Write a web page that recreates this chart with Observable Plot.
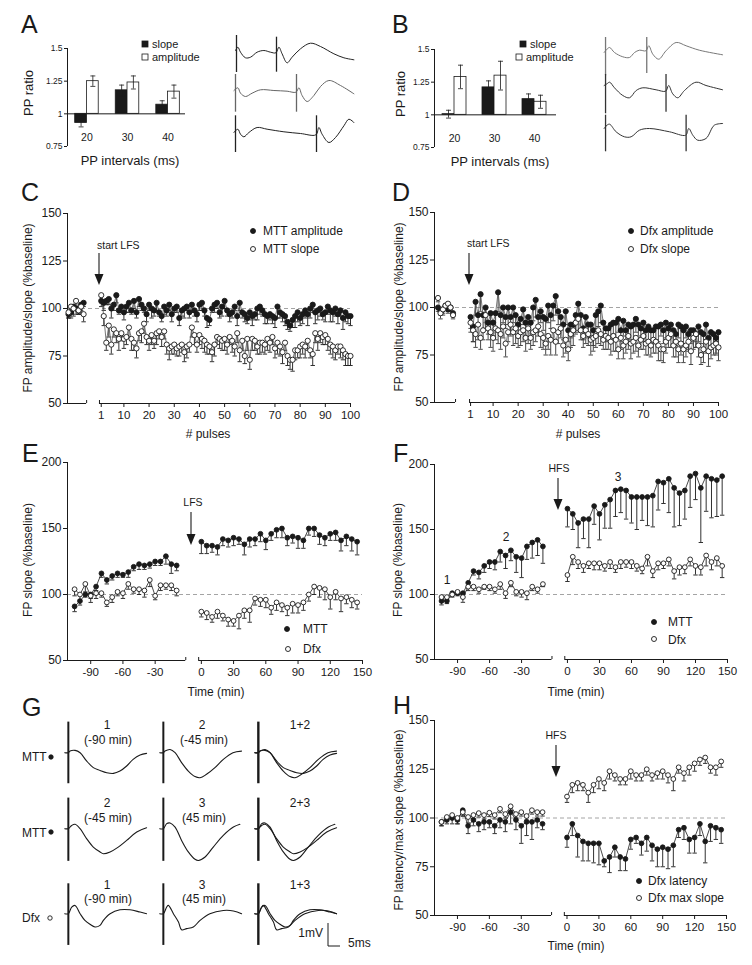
<!DOCTYPE html>
<html><head><meta charset="utf-8">
<script src="https://cdn.jsdelivr.net/npm/d3@7"></script>
<script src="https://cdn.jsdelivr.net/npm/@observablehq/plot@0.6"></script>
<style>
html,body{margin:0;padding:0;background:#fff;}
#fig{position:relative;width:752px;height:965px;overflow:hidden;font-family:"Liberation Sans",Arial,Helvetica,sans-serif;color:#1a1a1a;background:#fff;}
.t{position:absolute;white-space:nowrap;line-height:1;}
</style></head><body><div id="fig"></div>
<script>
// ---------------- DATA ----------------
const intervals = [20, 30, 40];
const aSlope = [0.93, 1.18, 1.07], aSlopeE = [0.03, 0.04, 0.03];
const aAmp = [1.25, 1.24, 1.17], aAmpE = [0.04, 0.05, 0.05];
const bSlope = [1.005, 1.21, 1.12], bSlopeE = [0.03, 0.05, 0.04];
const bAmp = [1.29, 1.30, 1.10], bAmpE = [0.09, 0.11, 0.05];
const ratioTicks = [0.75, 1, 1.25, 1.5];

// paired-pulse example traces [ms, a.u.]
const ppA20 = [[-0.5,0],[0.7,0.33],[2,-0.17],[4.5,-0.73],[7,-0.67],[10.3,-0.17],[13.7,0],[17,-0.17],[19.7,-0.23],[21.2,0.33],[22.8,-0.33],[25.3,-1.23],[27.8,-0.67],[32,0.17],[37,0.73],[42,0.4],[48.7,-0.33],[53.7,-0.73],[58.7,-0.93]];
const ppA20art = [{t:0,hi:1.5,lo:-2.2},{t:20,hi:1.33,lo:-2.17}];
const ppA30 = [[-0.8,0],[1.2,0.27],[2.5,-0.27],[5,-0.6],[8.3,-0.27],[12.5,0.07],[19.2,0],[25.8,-0.07],[30.2,-0.17],[31.7,0.27],[33.3,-0.5],[35.8,-1.1],[39.2,-0.5],[42.5,0.4],[46.7,1],[52.5,0.5],[59.2,-0.33]];
const ppA30art = [{t:0,hi:1.6,lo:-2.17},{t:30.5,hi:1.6,lo:-2.17}];
const ppA40 = [[-0.8,0],[1.2,0.33],[2.5,-0.17],[4.2,-0.43],[6.7,0],[10.8,0.5],[15.8,0.33],[24.2,0.07],[32.5,-0.1],[40.2,-0.23],[41.7,0.5],[43.3,-0.17],[46.7,-1],[50,-0.5],[54.2,0.67],[56.7,1.33],[59.2,1]];
const ppA40art = [{t:0,hi:1.67,lo:-2},{t:40.5,hi:1.67,lo:-2}];
const ppB20 = [[-0.7,0],[0.7,0.33],[2,0.5],[4.4,0],[8.5,-0.43],[11.8,-0.5],[14.3,0],[16.7,0.23],[19.9,0.17],[21.3,0.67],[23.3,-0.17],[26.2,-0.67],[29.8,0.17],[34.8,1],[39.7,0.67],[46.2,0.23],[57.7,-0.23]];
const ppB20art = [{t:0,hi:1.5,lo:-2.33},{t:20.3,hi:1.5,lo:-2.1}];
const ppB30 = [[-0.7,0],[0.7,0.17],[2,0.33],[4.4,-0.23],[8.5,-1],[11.8,-1.23],[15.1,-0.5],[18.4,-0.23],[24.9,-0.43],[29.6,-0.57],[31.1,0],[33.1,-0.83],[35.6,-1.23],[38.9,-0.5],[44.6,0.33],[49.5,0],[57.7,-0.43]];
const ppB30art = [{t:0,hi:1.1,lo:-2.83},{t:29.8,hi:1.1,lo:-2.67}];
const ppB40 = [[-0.7,0],[0.7,0.33],[2,0.43],[5.2,-0.33],[9.3,-0.83],[12.6,-0.83],[16.7,-0.17],[21.6,0],[31.5,-0.33],[39.5,-0.67],[41,0],[43,-0.67],[45.4,-1.17],[49.5,-1],[53.6,0.33],[57.7,0.5]];
const ppB40art = [{t:0,hi:1.33,lo:-2.33},{t:39.7,hi:1.33,lo:-2.33}];

// C: MTT, 1 Hz LFS
const pulses = d3.range(1, 101);
const baseX = [-12, -11, -10, -9, -8, -7, -6];
const cBaseAmp = [97, 98, 101, 100, 99, 102, 103], cBaseAmpE = [2, 3, 2, 3, 2, 3, 2];
const cBaseSlope = [98, 101, 100, 104, 99, 101, 97], cBaseSlopeE = [3, 2, 4, 3, 2, 4, 4];
const cAmp = [104,103,104,105,100,102,107,99,101,98, 101,103,99,104,98,105,102,100,97,102, 100,99,103,98,96,101,99,102,97,100, 101,95,99,100,101,98,102,99,97,102, 103,99,95,94,100,102,103,98,101,104, 99,97,98,101,96,103,98,97,95,98, 96,97,100,101,99,97,96,97,96,95, 101,98,97,96,93,91,94,96,98,95, 97,99,97,100,102,98,99,100,97,98, 101,99,98,100,97,99,95,98,96,96];
const cAmpE = [3,4,2,3,5,3,4,2,3,4, 3,5,2,4,3,4,3,2,4,3, 5,3,4,2,3,4,3,3,4,2, 3,4,3,5,2,3,4,3,4,3, 4,3,5,3,2,4,3,3,5,4, 3,4,3,2,5,4,3,4,3,4, 5,3,6,4,3,5,4,3,4,5, 6,3,4,5,4,3,4,6,5,4, 5,4,6,5,4,6,5,4,3,5, 4,6,5,4,5,3,6,5,4,5];
const cSlope = [107,96,82,91,81,89,87,84,87,84, 85,90,84,82,79,87,88,92,85,83, 86,83,87,88,85,88,81,79,80,81, 79,80,81,77,80,81,90,86,81,86, 84,83,81,80,77,81,85,84,83,84, 81,85,83,80,87,78,83,75,84,73, 84,83,80,82,82,81,84,82,85,79, 82,80,77,82,75,73,73,78,78,80, 81,80,83,78,76,87,84,87,85,86, 84,81,80,78,80,80,78,76,75,75];
const cSlopeE = [4,5,4,6,5,4,5,6,4,5, 4,5,6,4,5,4,6,5,4,5, 5,4,6,4,5,4,5,6,4,5, 4,5,4,5,6,4,5,5,4,5, 5,6,5,4,5,6,4,5,5,6, 5,4,6,5,5,6,5,4,6,5, 6,5,4,6,5,5,6,5,4,5, 6,5,6,4,5,5,6,5,4,6, 5,6,5,4,6,5,6,5,4,5, 6,5,6,5,4,6,5,6,5,5];

// D: Dfx, 1 Hz LFS
const dBaseAmp = [100, 98, 99, 101, 99, 100, 97], dBaseAmpE = [2, 2, 3, 2, 2, 2, 2];
const dBaseSlope = [105, 97, 99, 101, 102, 100, 96], dBaseSlopeE = [2, 3, 2, 2, 3, 2, 2];
const dAmp = [95,90,103,96,107,96,100,92,97,92, 97,108,96,100,95,100,95,100,96,91, 94,99,92,95,92,100,104,95,98,95, 94,101,96,101,106,98,95,91,98,88, 91,91,96,102,96,89,95,91,91,88, 96,98,101,92,89,89,91,92,92,94, 88,93,88,91,90,91,94,91,89,92, 88,90,88,88,90,90,91,88,92,89, 91,88,86,91,90,88,90,86,88,88, 86,90,87,86,91,84,87,86,84,87];
const dAmpE = [6,8,7,6,9,7,8,6,9,7, 8,10,7,8,6,9,7,8,6,7, 6,8,7,6,8,7,9,8,6,7, 8,9,7,8,10,7,6,8,7,6, 7,6,8,9,7,6,8,7,6,8, 7,8,9,6,7,6,7,6,8,7, 6,8,7,6,7,8,7,6,7,8, 6,7,8,6,7,8,6,7,8,6, 7,8,6,7,8,7,6,8,7,6, 7,8,6,7,8,6,7,6,8,7];
const dSlope = [92,88,86,91,84,88,96,89,87,84, 89,88,86,90,81,87,91,87,89,85, 87,88,84,89,84,87,88,90,86,84, 81,85,83,88,82,87,89,80,83,78, 86,88,92,94,88,85,88,86,83,84, 85,88,86,83,85,84,82,85,83,78, 84,80,82,85,81,82,84,80,83,85, 81,82,80,83,82,80,78,78,82,84, 86,80,82,78,81,78,80,82,77,84, 86,80,75,78,82,77,79,80,81,79];
const dSlopeE = [5,6,7,8,6,5,7,6,8,7, 6,7,8,6,7,5,6,7,8,6, 7,6,7,8,6,7,6,5,7,6, 6,7,8,6,7,6,5,6,7,6, 7,8,6,7,5,6,7,6,8,7, 6,7,6,5,7,6,7,8,6,5, 6,7,6,7,8,6,7,6,5,7, 6,7,6,7,6,8,6,7,6,5, 7,6,8,7,6,7,6,5,7,6, 7,6,5,7,6,8,6,5,6,7];

// time axes (min)
const preT = d3.range(-105, -5, 5);   // 20 points
const postT = d3.range(0, 150, 5);    // 30 points
const timeTicks = [-90, -60, -30, 0, 30, 60, 90, 120, 150];

// E: LFS (MTT vs Dfx)
const eMttPre = [91,95,100,100,106,116,111,114,116,115,117,121,123,122,123,125,125,129,123,122];
const eMttPreE = [4,3,2,3,3,3,3,3,3,2,4,3,4,3,3,3,3,6,7,4];
const eDfxPre = [104,100,108,99,101,101,94,98,102,101,108,104,104,103,111,99,107,107,107,103];
const eDfxPreE = [5,4,6,5,4,3,3,4,3,4,4,3,4,5,5,3,4,3,4,4];
const eMttPost = [140,137,137,136,142,141,143,142,138,142,142,146,141,146,149,150,143,144,143,141,150,150,145,143,146,147,141,144,142,140];
const eMttPostE = [9,6,5,6,5,5,6,4,8,6,5,6,7,5,6,7,6,5,8,6,5,6,7,6,5,6,8,7,9,10];
const eDfxPost = [87,86,83,87,84,81,80,84,88,88,97,96,96,90,94,92,90,93,92,94,100,106,105,104,98,102,97,98,96,94];
const eDfxPostE = [4,5,4,5,4,5,4,10,6,9,5,5,6,5,6,5,6,7,6,6,5,6,7,8,9,6,10,5,6,5];

// F: HFS (MTT vs Dfx)
const fMttPre = [95,95,101,101,101,109,118,117,122,125,125,133,130,134,129,128,137,140,142,137];
const fMttPreE = [3,2,2,2,3,3,3,5,5,5,6,8,10,8,12,15,10,12,12,13];
const fDfxPre = [98,98,100,102,98,106,106,104,106,106,104,108,101,109,102,102,101,106,104,108];
const fDfxPreE = [3,2,2,2,4,3,3,3,2,3,3,4,4,3,3,4,5,3,3,2];
const fMttPost = [166,162,155,158,158,168,162,169,173,180,181,180,175,175,175,175,176,187,186,189,182,178,180,191,193,182,191,189,188,191];
const fMttPostE = [14,12,19,15,22,14,20,18,22,20,18,22,20,25,18,22,24,22,16,26,30,25,22,24,20,42,27,30,28,30];
const fDfxPost = [115,129,125,122,124,124,124,122,125,121,125,125,125,122,120,129,118,124,124,127,118,121,121,127,122,121,130,125,128,122];
const fDfxPostE = [5,6,5,5,4,5,5,4,5,4,5,4,5,4,4,7,5,5,4,5,6,6,5,5,7,6,8,6,6,9];

// H: Dfx latency / max slope
const hLatPre = [98,99,100,99,104,96,99,97,98,98,96,99,98,103,99,96,98,98,99,97];
const hLatPreE = [2,2,3,2,3,4,3,4,4,3,4,4,5,6,5,9,7,9,4,3];
const hMaxPre = [98,100.5,101.5,100,103,100.5,101.5,102.5,101.5,102.7,101.5,104.7,102,106,102,103,101,104,103,103];
const hMaxPreE = [2,2,2,3,2,3,2,2,2,2,2,2,2,3,2,2,2,2,2,2];
const hLatPost = [90,97,91,88,87,87,87,78,80,85,80,79,89,90,87,90,86,84,85,84,86,94,95,89,90,97,88,96,95,94];
const hLatPostE = [5,6,11,10,9,10,11,3,8,5,7,6,5,3,6,7,8,9,10,10,11,4,6,7,8,6,11,8,6,7];
const hMaxPost = [111,117,118,117,113,117,120,118,124,122,120,120,124,122,122,125,122,123,124,122,120,126,123,126,128,130,131,126,126,129];
const hMaxPostE = [3,4,4,3,5,4,5,4,4,3,3,3,4,3,3,3,3,3,4,4,6,3,4,4,4,3,3,3,4,3];

// G: example field potentials [ms, mV]
const g1a = [[-1.5,0],[0,0],[0.7,0.07],[2.8,0.1],[4.9,0],[7.6,-0.36],[10.4,-0.65],[13.2,-0.77],[16,-0.87],[18.8,-0.9],[21.5,-0.8],[24.3,-0.58],[27,-0.29],[29.9,-0.1],[32.6,-0.03]];
const g1b = [[-1.5,0],[0,0],[0.7,0.07],[2.8,0.14],[4.9,0],[7.6,-0.43],[10.4,-0.8],[13.2,-1.04],[15.3,-1.09],[18,-0.94],[21.5,-0.65],[25,-0.29],[29,0],[32.6,0.07]];
const g2a = [[-1.5,0],[0,0],[1.4,0.14],[2.8,0.19],[4.9,0],[7.6,-0.43],[10.4,-0.8],[13.2,-1.01],[14.6,-1.09],[17.4,-1.01],[20.8,-0.8],[24.3,-0.51],[28.5,-0.14],[32.6,0.04]];
const g2b = [[-1.5,0],[0,0],[1.4,0.22],[2.8,0.25],[4.9,0.07],[7.6,-0.51],[10.4,-1.01],[13.2,-1.33],[14.6,-1.38],[17.4,-1.23],[20.8,-0.8],[25,-0.29],[29.2,0.07],[31.9,0.19]];
const g3a = [[-1.5,0],[0,0],[1.4,0.29],[2.8,0.36],[4.9,0],[6.9,-0.29],[9,-0.46],[11.1,-0.58],[13.2,-0.51],[14.6,-0.29],[17.4,0],[21.5,0.17],[25.7,0.17],[29.9,0.07],[32.6,0]];
const g3b = [[-1.5,0],[0,0],[1.4,0.29],[2.1,0.36],[4.2,0],[6.3,-0.36],[7.6,-0.7],[9.7,-0.65],[12.5,-0.58],[15.3,-0.29],[19.4,0],[25,0.14],[29.2,0.12],[32.6,0]];
const gArt1 = [{t:0,hi:1.33,lo:-1.35}], gArt2 = [{t:0,hi:1.33,lo:-1.42}], gArt3 = [{t:0,hi:1.3,lo:-1.38}];

// ---------------- HELPERS ----------------
const FONT = '"Liberation Sans", Arial, Helvetica, sans-serif';
const INK = "#1a1a1a";
const fig = document.getElementById("fig");
const STY = {background: "transparent", overflow: "visible", fontFamily: FONT, color: INK};

function mount(svg, left, top) {
  svg.style.position = "absolute";
  svg.style.left = left + "px";
  svg.style.top = top + "px";
  svg.style.maxWidth = "none";
  fig.appendChild(svg);
}
function txt(x, y, s, o = {}) {
  const d = document.createElement("div");
  d.className = "t";
  d.textContent = s;
  d.style.left = x + "px";
  d.style.top = y + "px";
  d.style.fontSize = (o.size || 12) + "px";
  const ax = o.anchor === "middle" ? "-50%" : o.anchor === "end" ? "-100%" : "0";
  d.style.transform = `translate(${o.rotate ? "-50%" : ax},-50%)` + (o.rotate ? ` rotate(${o.rotate}deg)` : "");
  fig.appendChild(d);
}
function ser(xs, ys, es, g) { return ys.map((y, i) => ({x: xs[i], y, e: es[i], g})); }

// time-course panel
function tcPlot(cfg) {
  const P = 50;
  const [L, R] = cfg.px, [B, T] = cfg.py;
  const w = R - L, h = B - T;
  const xd = cfg.xd, yd = cfg.yd;
  const kx = (xd[1] - xd[0]) / w, ky = (yd[1] - yd[0]) / h;
  const cap = 2.2 * kx;
  const marks = [
    Plot.ruleY([100], {x1: xd[0], x2: xd[1], stroke: "#9a9a9a", strokeDasharray: "4,3", strokeWidth: 0.9}),
    Plot.ruleX([xd[0]], {y1: yd[0], y2: yd[1], stroke: INK, strokeWidth: 1}),
    Plot.ruleY(cfg.segs, {y: yd[0], x1: s => s[0], x2: s => s[1], stroke: INK, strokeWidth: 1}),
    Plot.ruleX([cfg.segs[0][1], cfg.segs[1][0]], {y1: yd[0], y2: yd[0] + 3 * ky, stroke: INK}),
    Plot.axisY({ticks: cfg.yTicks, tickFormat: d => String(d), tickSize: 4, tickPadding: 2, fontSize: 12, label: null}),
    Plot.axisX({ticks: cfg.xTicks, tickFormat: cfg.xFmt, tickSize: 4, tickPadding: 3, fontSize: 11.5, label: null})
  ];
  for (const s of cfg.series) {
    marks.push(
      Plot.ruleX(s.data, {x: "x", y1: d => d.y - d.e, y2: "y", stroke: s.err || INK, strokeWidth: 0.9}),
      Plot.link(s.data, {x1: d => d.x - cap, x2: d => d.x + cap, y1: d => d.y - d.e, y2: d => d.y - d.e, stroke: s.err || INK, strokeWidth: 0.9}),
      Plot.line(s.data, {x: "x", y: "y", z: "g", stroke: s.line || INK, strokeWidth: 0.8})
    );
  }
  for (const s of cfg.series) {
    marks.push(Plot.dot(s.data, {x: "x", y: "y", r: cfg.r || 2.5, fill: s.filled ? INK : "white", stroke: INK, strokeWidth: 0.9}));
  }
  const svg = Plot.plot({
    width: w + 2 * P, height: h + 2 * P, margin: P,
    x: {domain: xd}, y: {domain: yd},
    style: STY, marks
  });
  mount(svg, L - P, T - P);
}

// paired-pulse bar panel
function ppPlot(cfg) {
  const P = 40;
  const [L, R] = cfg.px, [B, T] = cfg.py;
  const w = R - L, h = B - T;
  const xd = cfg.xd, yd = [0.75, 1.5];
  const kx = (xd[1] - xd[0]) / w;
  const bw = cfg.bw, cap = 2.5 * kx;
  const sd = intervals.map((iv, i) => ({iv, v: cfg.slope[i], e: cfg.slopeE[i], xc: iv - bw / 2}));
  const ad = intervals.map((iv, i) => ({iv, v: cfg.amp[i], e: cfg.ampE[i], xc: iv + bw / 2}));
  const all = sd.concat(ad);
  const svg = Plot.plot({
    width: w + 2 * P, height: h + 2 * P, margin: P,
    x: {domain: xd, axis: null}, y: {domain: yd},
    style: STY,
    marks: [
      Plot.rect(sd, {x1: d => d.iv - bw, x2: "iv", y1: () => 1, y2: "v", fill: INK, stroke: INK, strokeWidth: 0.8}),
      Plot.rect(ad, {x1: "iv", x2: d => d.iv + bw, y1: () => 1, y2: "v", fill: "white", stroke: INK, strokeWidth: 0.8}),
      Plot.ruleX(all, {x: "xc", y1: d => d.v - d.e, y2: d => d.v + d.e, stroke: INK, strokeWidth: 0.8}),
      Plot.link(all, {x1: d => d.xc - cap, x2: d => d.xc + cap, y1: d => d.v + d.e, y2: d => d.v + d.e, stroke: INK, strokeWidth: 0.8}),
      Plot.link(all, {x1: d => d.xc - cap, x2: d => d.xc + cap, y1: d => d.v - d.e, y2: d => d.v - d.e, stroke: INK, strokeWidth: 0.8}),
      Plot.ruleY([1], {x1: xd[0], x2: xd[1], stroke: INK, strokeWidth: 1}),
      Plot.ruleX([xd[0]], {y1: yd[0], y2: yd[1], stroke: INK, strokeWidth: 1}),
      Plot.axisY({ticks: ratioTicks, tickFormat: d => String(d), tickSize: 3, tickPadding: 2, fontSize: 8.5, label: null}),
      Plot.text(intervals, {x: d => d, y: () => yd[0], dy: -9, text: d => String(d), fontSize: 10.5})
    ]
  });
  mount(svg, L - P, T - P);
}

// example trace
function trace(cfg) {
  const P = 4;
  const xd = cfg.xd, yd = cfg.yd;
  const W = (xd[1] - xd[0]) * cfg.kx, H = (yd[1] - yd[0]) * cfg.ky;
  const marks = cfg.lines.map(l => Plot.line(l, {x: d => d[0], y: d => d[1], curve: "catmull-rom", stroke: cfg.stroke || INK, strokeWidth: cfg.sw || 1}));
  marks.push(Plot.ruleX(cfg.art, {x: "t", y1: "lo", y2: "hi", stroke: cfg.stroke || INK, strokeWidth: cfg.aw || 1.3}));
  const svg = Plot.plot({
    width: W + 2 * P, height: H + 2 * P, margin: P,
    x: {domain: xd, axis: null}, y: {domain: yd, axis: null},
    style: STY, marks
  });
  mount(svg, cfg.x0 + xd[0] * cfg.kx - P, cfg.y0 - yd[1] * cfg.ky - P);
}

// ---------------- PANELS A, B ----------------
ppPlot({px: [67, 185], py: [146, 48], xd: [15.2, 44.3], bw: 2.9, slope: aSlope, slopeE: aSlopeE, amp: aAmp, ampE: aAmpE});
ppPlot({px: [434, 556], py: [147, 49], xd: [15, 45.5], bw: 3, slope: bSlope, slopeE: bSlopeE, amp: bAmp, ampE: bAmpE});

const ppXd = [-1, 60], ppYd = [-2.9, 1.7];
trace({x0: 236, y0: 50, kx: 2, ky: 10, xd: ppXd, yd: ppYd, lines: [ppA20], art: ppA20art, stroke: "#222"});
trace({x0: 235, y0: 90, kx: 2, ky: 10, xd: ppXd, yd: ppYd, lines: [ppA30], art: ppA30art, stroke: "#666"});
trace({x0: 235, y0: 132, kx: 2, ky: 10, xd: ppXd, yd: ppYd, lines: [ppA40], art: ppA40art, stroke: "#222"});
trace({x0: 605, y0: 52, kx: 2.03, ky: 10, xd: ppXd, yd: ppYd, lines: [ppB20], art: ppB20art, stroke: "#777"});
trace({x0: 605, y0: 85, kx: 2.03, ky: 10, xd: ppXd, yd: ppYd, lines: [ppB30], art: ppB30art, stroke: "#333"});
trace({x0: 605, y0: 128, kx: 2.03, ky: 10, xd: ppXd, yd: ppYd, lines: [ppB40], art: ppB40art, stroke: "#333"});

// ---------------- PANELS C, D ----------------
const pulseTicks = [1, 10, 20, 30, 40, 50, 60, 70, 80, 90, 100];
tcPlot({
  px: [67, 350], py: [403, 213], xd: [-12.4, 100], yd: [50, 150],
  segs: [[-12.4, -4.8], [0.3, 100]], yTicks: [50, 75, 100, 125, 150], xTicks: pulseTicks, xFmt: d => String(d), r: 2.6,
  series: [
    {filled: true, line: "#555", data: ser(baseX, cBaseAmp, cBaseAmpE, "b").concat(ser(pulses, cAmp, cAmpE, "p"))},
    {filled: false, line: "#555", data: ser(baseX, cBaseSlope, cBaseSlopeE, "b").concat(ser(pulses, cSlope, cSlopeE, "p"))}
  ]
});
tcPlot({
  px: [434, 719], py: [402, 212], xd: [-13.4, 100.4], yd: [50, 150],
  segs: [[-13.4, -5], [0.6, 100.4]], yTicks: [50, 75, 100, 125, 150], xTicks: pulseTicks, xFmt: d => String(d), r: 2.6,
  series: [
    {filled: true, line: "#555", err: "#333", data: ser(baseX, dBaseAmp, dBaseAmpE, "b").concat(ser(pulses, dAmp, dAmpE, "p"))},
    {filled: false, line: "#777", err: "#333", data: ser(baseX, dBaseSlope, dBaseSlopeE, "b").concat(ser(pulses, dSlope, dSlopeE, "p"))}
  ]
});

// ---------------- PANELS E, F, H ----------------
const GAP = 13;
const xp = t => t < 0 ? t - GAP : t;
const tTickPos = timeTicks.map(xp);
const tFmt = d => String(d < -5 ? d + GAP : d);
const preX = preT.map(xp), postX = postT;
const tSegs = [[-124.6, -14.5], [-2.5, 150]];
function tcTime(px, py, yd, yTicks, s1pre, s1preE, s1post, s1postE, s2pre, s2preE, s2post, s2postE) {
  tcPlot({
    px, py, xd: [-124.6, 150], yd, segs: tSegs, yTicks, xTicks: tTickPos, xFmt: tFmt, r: 2.4,
    series: [
      {filled: true, data: ser(preX, s1pre, s1preE, "a").concat(ser(postX, s1post, s1postE, "b"))},
      {filled: false, data: ser(preX, s2pre, s2preE, "a").concat(ser(postX, s2post, s2postE, "b"))}
    ]
  });
}
tcTime([67, 362], [660, 462], [50, 200], [50, 100, 150, 200], eMttPre, eMttPreE, eMttPost, eMttPostE, eDfxPre, eDfxPreE, eDfxPost, eDfxPostE);
tcTime([434, 727], [659, 464], [50, 200], [50, 100, 150, 200], fMttPre, fMttPreE, fMttPost, fMttPostE, fDfxPre, fDfxPreE, fDfxPost, fDfxPostE);
tcTime([434, 726], [915, 720], [50, 150], [50, 75, 100, 125, 150], hLatPre, hLatPreE, hLatPost, hLatPostE, hMaxPre, hMaxPreE, hMaxPost, hMaxPostE);

// ---------------- PANEL G ----------------
const gCols = [68, 163, 258];
const gRows = [
  {y0: 752, a: g1a, b: g1b, art: gArt1, la: ["1", "(-90 min)"], lb: ["2", "(-45 min)"], lc: "1+2", name: "MTT", dy: [27, 12]},
  {y0: 828, a: g2a, b: g2b, art: gArt2, la: ["2", "(-45 min)"], lb: ["3", "(45 min)"], lc: "2+3", name: "MTT", dy: [25, 10]},
  {y0: 913, a: g3a, b: g3b, art: gArt3, la: ["1", "(-90 min)"], lb: ["3", "(45 min)"], lc: "1+3", name: "Dfx", dy: [28, 14]}
];
const gXd = [-1.6, 33], gYd = [-1.5, 1.4];
for (const r of gRows) {
  trace({x0: gCols[0], y0: r.y0, kx: 2.4, ky: 23, xd: gXd, yd: gYd, lines: [r.a], art: r.art, sw: 1.1, aw: 2});
  trace({x0: gCols[1], y0: r.y0, kx: 2.4, ky: 23, xd: gXd, yd: gYd, lines: [r.b], art: r.art, sw: 1.1, aw: 2});
  trace({x0: gCols[2], y0: r.y0, kx: 2.4, ky: 23, xd: gXd, yd: gYd, lines: [r.a, r.b], art: r.art, sw: 1.1, aw: 2.4});
  txt(107, r.y0 - r.dy[0], r.la[0], {anchor: "middle"});
  txt(108, r.y0 - r.dy[1], r.la[1], {anchor: "middle"});
  txt(202, r.y0 - r.dy[0], r.lb[0], {anchor: "middle"});
  txt(204, r.y0 - r.dy[1], r.lb[1], {anchor: "middle"});
  txt(300, r.y0 - r.dy[0], r.lc, {anchor: "middle"});
  txt(22, r.y0 + 5, r.name, {size: 12});
}

// ---------------- TEXT ----------------
// panel letters
txt(21, 24, "A", {size: 25}); txt(392, 24, "B", {size: 25});
txt(21, 192, "C", {size: 25}); txt(392, 192, "D", {size: 25});
txt(22, 453, "E", {size: 25}); txt(393, 453, "F", {size: 25});
txt(22, 707, "G", {size: 25}); txt(393, 705, "H", {size: 25});
// A / B
txt(28, 93, "PP ratio", {size: 13, rotate: -90});
txt(400, 94, "PP ratio", {size: 13, rotate: -90});
txt(130, 160, "PP intervals (ms)", {size: 13, anchor: "middle"});
txt(500, 161, "PP intervals (ms)", {size: 13, anchor: "middle"});
txt(152, 44, "slope", {size: 11}); txt(152, 57, "amplitude", {size: 11});
txt(530, 44, "slope", {size: 11}); txt(526, 57, "amplitude", {size: 11});
// C / D
txt(28, 308, "FP amplitude/slope (%baseline)", {rotate: -90});
txt(399, 307, "FP amplitude/slope (%baseline)", {rotate: -90});
txt(263, 231, "MTT amplitude"); txt(263, 249, "MTT slope");
txt(640, 231, "Dfx amplitude"); txt(640, 249, "Dfx slope");
txt(97, 245, "start LFS", {size: 10.5}); txt(467, 243, "start LFS", {size: 10.5});
txt(208, 434, "# pulses", {anchor: "middle"}); txt(578, 434, "# pulses", {anchor: "middle"});
// E / F
txt(28, 560, "FP slope (%baseline)", {rotate: -90});
txt(398, 560, "FP slope (%baseline)", {rotate: -90});
txt(193, 502, "LFS", {size: 10.5, anchor: "middle"});
txt(559, 468, "HFS", {size: 10.5, anchor: "middle"});
txt(303, 629, "MTT"); txt(303, 649, "Dfx");
txt(668, 622, "MTT"); txt(668, 640, "Dfx");
txt(447, 580, "1", {anchor: "middle"}); txt(506, 537, "2", {anchor: "middle"}); txt(618, 477, "3", {anchor: "middle"});
txt(216, 692, "Time (min)", {anchor: "middle"}); txt(576, 692, "Time (min)", {anchor: "middle"});
// H
txt(399, 820, "FP latency/max slope (%baseline)", {rotate: -90});
txt(556, 735, "HFS", {size: 10.5, anchor: "middle"});
txt(648, 881, "Dfx latency"); txt(648, 898, "Dfx max slope");
txt(576, 946, "Time (min)", {anchor: "middle"});
// G scale bar
txt(323, 933, "1mV", {anchor: "end"}); txt(348, 943, "5ms");

// ---------------- OVERLAY (arrows, legend keys, scale bar) ----------------
const ov = d3.create("svg").attr("width", 752).attr("height", 965)
  .style("position", "absolute").style("left", "0px").style("top", "0px").style("pointer-events", "none");
function arrow(x, y1, y2) {
  ov.append("line").attr("x1", x).attr("x2", x).attr("y1", y1).attr("y2", y2 - 8).attr("stroke", INK).attr("stroke-width", 1.1);
  ov.append("path").attr("d", `M${x - 4.5},${y2 - 11}L${x + 4.5},${y2 - 11}L${x},${y2}Z`).attr("fill", INK);
}
function key(x, y, filled, r = 2.5) {
  ov.append("circle").attr("cx", x).attr("cy", y).attr("r", r).attr("fill", filled ? INK : "white").attr("stroke", INK).attr("stroke-width", 0.9);
}
function sq(x, y, filled) {
  ov.append("rect").attr("x", x - 3).attr("y", y - 3).attr("width", 6).attr("height", 6).attr("fill", filled ? INK : "white").attr("stroke", INK).attr("stroke-width", 0.8);
}
arrow(99, 253, 285); arrow(469, 253, 285);
arrow(191, 512, 545); arrow(558, 478, 510); arrow(556, 745, 777);
sq(145, 44, true); sq(145, 57, false); sq(523, 44, true); sq(519, 57, false);
key(253, 231, true); key(253, 249, false);
key(631, 231, true); key(631, 249, false);
key(287, 629, true); key(288, 649, false);
key(654, 622, true); key(654, 639, false);
key(639, 881, true); key(639, 898, false);
key(51, 757, true, 2.2); key(51, 832, true, 2.2); key(50, 918, false, 2.2);
ov.append("path").attr("d", "M328,923L328,946L340,946").attr("fill", "none").attr("stroke", INK).attr("stroke-width", 1);
fig.appendChild(ov.node());
</script></body></html>
